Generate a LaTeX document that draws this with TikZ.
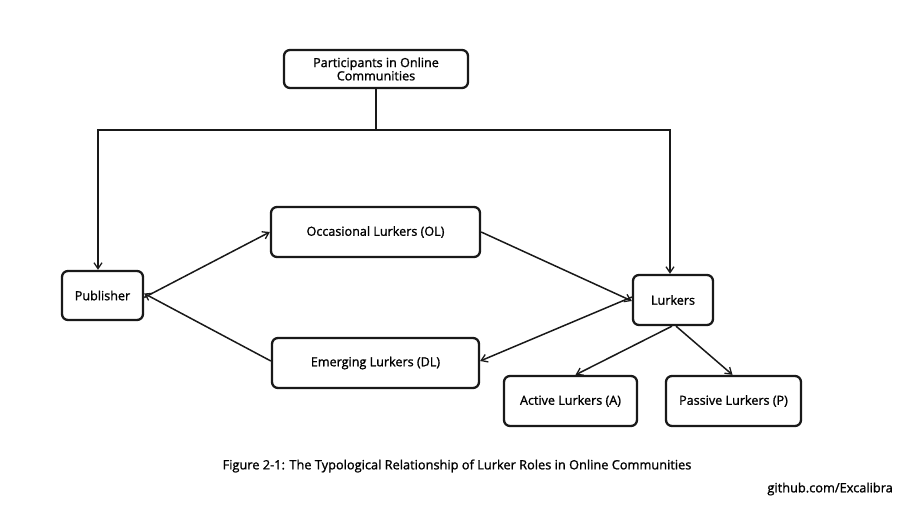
\documentclass[tikz,border=0pt]{standalone}
\usepackage{fontspec}
\setmainfont{Open Sans}
\newfontfamily\nodefont[FakeBold=1.3]{Open Sans}
\usetikzlibrary{arrows.meta}
\begin{document}
\begin{tikzpicture}[x=1pt,y=-1pt,
  box/.style={draw=black!90, line width=2.3pt, rounded corners=6pt, inner sep=0pt, font=\nodefont\fontsize{12.6}{10.5}\selectfont, align=center},
  conn/.style={draw=black!90, line width=1.5pt, -{Straight Barb[length=6pt,width=8pt,line width=1.3pt]}},
  plain/.style={draw=black!90, line width=1.5pt},
  txt/.style={font=\nodefont\fontsize{12.8}{14}\selectfont, inner sep=0pt}]
\useasboundingbox (0,0) rectangle (918,508);
\node[box, minimum width=184pt, minimum height=38pt] (top) at (376,69) {Participants in Online\\Communities};
\node[box, minimum width=81pt, minimum height=49pt] (pub) at (102.5,295.5) {Publisher};
\node[box, minimum width=209pt, minimum height=50pt] (ol) at (375.5,232) {Occasional Lurkers (OL)};
\node[box, minimum width=207pt, minimum height=50pt] (el) at (375.5,363) {Emerging Lurkers (DL)};
\node[box, minimum width=80pt, minimum height=50pt] (lk) at (673,300) {Lurkers};
\node[box, minimum width=133pt, minimum height=50pt] (ac) at (570.5,401) {Active Lurkers (A)};
\node[box, minimum width=135pt, minimum height=50pt] (pa) at (733.5,401) {Passive Lurkers (P)};
\coordinate (j) at (376,130);
\coordinate (jl) at (98,130);
\coordinate (jr) at (670,130);
\draw[plain] (top.south) -- (j);
\draw[conn] (j) -- (jl) -- (jl |- pub.north);
\draw[conn] (j) -- (jr) -- (jr |- lk.north);
\draw[conn] ([yshift=-2pt]pub.east) -- ([yshift=0pt]ol.west);
\draw[conn] ([yshift=2pt]el.west) -- ([yshift=2pt]pub.east);
\draw[conn] (ol.east) -- ([yshift=-1pt]lk.west);
\draw[conn] ([yshift=3pt]lk.west) -- ([yshift=2pt]el.east);
\draw[conn] ([xshift=-1pt]lk.south) -- ([xshift=5pt]ac.north);
\draw[conn] ([xshift=3pt]lk.south) -- ([xshift=-1pt]pa.north);
\node[txt] (cap) at (457,466) {Figure 2-1: The Typological Relationship of Lurker Roles in Online Communities};
\node[txt, anchor=east] (gh) at (893,489) {github.com/Excalibra};
\end{tikzpicture}
\end{document}
